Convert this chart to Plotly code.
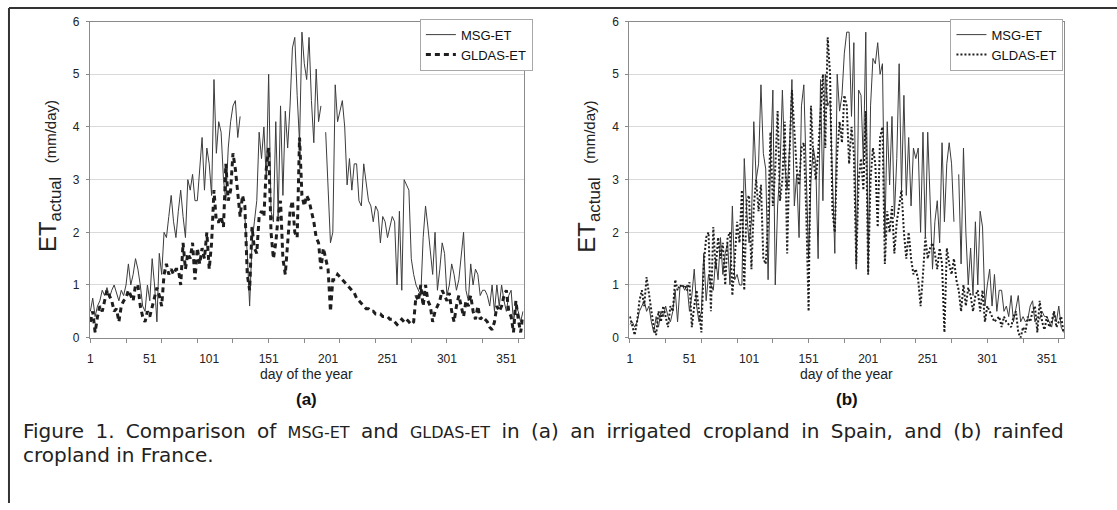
import plotly.graph_objects as go

# ---------------- data (every 2nd day) ----------------
days = list(range(1, 366, 2))

msg_a = [
    0.5, 0.75, 0.4, 0.6, 0.7, 0.9, 0.8, 0.95, 0.75, 0.9,
    1.0, 0.85, 0.7, 0.9, 0.8, 1.0, 1.4, 1.0, 1.2, 1.5,
    1.3, 1.0, 0.6, 0.5, 1.0, 0.7, 1.5, 1.0, 0.3, 1.6,
    1.2, 2.0, 1.9, 2.3, 2.7, 2.2, 1.9, 2.4, 2.8, 2.3,
    1.9, 3.0, 2.8, 3.1, 2.6, 2.6, 3.3, 3.8, 2.8, 3.6,
    3.3, 2.7, 4.9, 3.5, 4.1, 3.9, 3.0, 2.6, 3.6, 4.1,
    4.4, 4.5, 3.8, 4.2, None, 2.3, 1.6, 0.6, 1.8, 2.2,
    2.6, 3.9, 3.4, 4.0, 3.0, 5.0, 2.4, 2.2, 4.1, 2.3,
    4.4, 2.7, 4.3, 3.6, 4.4, 5.5, 5.7, 4.6, 3.7, 5.8,
    5.2, 4.9, 5.7, 4.5, 3.7, 5.1, 4.1, 4.4, None, 3.9,
    2.8, 1.8, 2.0, 4.8, 4.1, 4.3, 4.5, 4.0, 2.9, 3.4,
    2.8, 3.3, 3.3, 2.6, 2.5, 3.3, 2.9, 2.6, 2.5, 2.2,
    2.5, 2.4, 1.8, 2.3, 2.2, 1.9, 2.1, 2.3, 2.2, 1.0,
    2.4, 0.9, 3.0, 2.9, 2.8, 1.5, 1.2, 1.0, 0.9, 0.8,
    1.9, 2.5, 2.1, 1.6, 1.2, 2.0, 0.9, 1.3, 1.8, 1.6,
    0.8, 1.0, 1.4, 1.2, 0.9, 1.1, 1.6, 2.0, 0.9, 0.7,
    1.4, 1.0, 1.3, 1.2, 0.8, 0.9, 0.9, 0.8, 0.6, 1.0,
    0.5, 1.0, 0.6, 1.0, 0.7, 0.5, 0.8, 0.9, 0.3, 0.6,
    0.5, 0.3, 0.5,
]

gldas_a = [
    0.3, 0.5, 0.1, 0.4, 0.6, 0.5, 0.7, 0.9, 0.8, 0.7,
    0.5, 0.55, 0.3, 0.6, 0.7, 0.75, 0.9, 0.8, 0.7, 1.0,
    1.0, 0.6, 0.4, 0.3, 0.5, 0.4, 0.6, 0.8, 0.95, 0.8,
    0.6, 1.2, 1.4, 1.2, 1.3, 1.2, 1.3, 1.3, 1.0, 1.8,
    1.3, 1.6, 1.5, 1.8, 1.1, 1.7, 1.4, 1.7, 1.5, 2.0,
    1.3, 1.8, 2.8, 2.2, 2.2, 2.3, 2.1, 3.3, 2.6, 2.8,
    3.5, 3.2, 2.8, 2.3, 2.7, 2.5, 1.2, 0.9, 2.1, 1.7,
    1.6, 2.3, 2.4, 2.3, 3.2, 3.6, 2.0, 1.5, 1.8, 2.3,
    2.6, 1.5, 1.2, 1.8, 2.4, 2.6, 2.0, 1.9, 3.8, 2.7,
    2.5, 2.7, 2.6, 2.4, 2.2, 1.9, 1.8, 1.3, 1.7, 1.5,
    1.3, 0.5, 1.1, 1.1, 1.2, 1.15, 1.1, 1.05, 1.0, 0.95,
    0.9, 0.85, 0.75, 0.7, 0.65, 0.6, 0.55, 0.55, 0.5, 0.5,
    0.45, 0.45, 0.45, 0.4, 0.4, 0.4, 0.35, 0.35, 0.3, 0.25,
    0.3, 0.35, 0.3, 0.35, 0.3, 0.25, 0.3, 0.8, 0.7, 1.0,
    0.6, 1.0, 0.7, 0.6, 0.3, 0.5, 0.6, 0.7, 0.9, 0.8,
    0.7, 0.85, 0.5, 0.3, 0.6, 0.8, 0.6, 0.4, 0.7, 0.6,
    0.8, 0.5, 0.35, 0.6, 0.35, 0.4, 0.35, 0.3, 0.2, 0.15,
    0.3, 0.6, 0.5, 0.6, 0.8, 0.9, 0.5, 0.4, 0.1, 0.7,
    0.35, 0.1, 0.4,
]

msg_b = [
    0.25, 0.3, 0.2, 0.3, 0.5, 0.6, 0.7, 0.5, 0.6, 0.3,
    0.1, 0.4, 0.2, 0.5, 0.4, 0.6, 0.4, 0.3, 0.5, 0.9,
    0.3, 0.95, 1.0, 0.9, 1.0, 0.5, 0.8, 1.3, 0.6, 0.3,
    0.5, 1.6, 0.7, 1.2, 1.0, 0.9, 1.5, 1.1, 1.9, 1.2,
    1.6, 1.8, 1.0, 2.5, 1.1, 1.2, 1.0, 1.0, 3.4, 2.4,
    1.8, 2.2, 4.1, 3.0, 3.3, 4.8, 3.5, 3.2, 1.1, 3.3,
    4.7, 1.0, 2.5, 3.2, 4.7, 3.3, 2.8, 3.6, 4.9, 2.5,
    3.1, 1.9, 4.4, 4.8, 3.2, 1.5, 3.0, 3.6, 3.3, 1.5,
    4.9, 2.6, 5.0, 4.4, 4.5, 3.1, 1.6, 5.0, 4.3, 4.6,
    5.4, 5.8, 5.8, 4.2, 5.6, 1.3, 4.7, 4.6, 3.3, 5.8,
    1.2, 4.4, 5.3, 5.2, 5.6, 5.0, 5.2, 1.9, 4.1, 2.9,
    4.2, 2.3, 3.4, 5.2, 2.8, 4.6, 2.7, 3.8, 2.5, 3.6,
    3.4, 3.6, 2.0, 3.9, 1.9, 3.9, 2.7, 1.3, 2.2, 2.6,
    1.8, 3.7, 2.2, 3.3, 3.7, 3.3, 2.2, None, 3.1, 1.4,
    3.6, 2.0, 1.0, 1.7, 0.8, 2.2, 1.0, 2.4, 2.1, 0.6,
    1.0, 1.3, 0.6, 1.2, 0.5, 0.9, 0.9, 0.5, 0.6, 0.4,
    0.8, 0.3, 0.55, 0.8, 0.3, 0.4, 0.3, 0.35, 0.6, 0.7,
    0.3, 0.4, 0.35, 0.5, 0.4, 0.4, 0.3, 0.2, 0.5, 0.3,
    0.6, 0.2, 0.1,
]

gldas_b = [
    0.4, 0.2, 0.05, 0.3, 0.7, 0.9, 0.6, 1.15, 0.8, 0.5,
    0.2, 0.05, 0.5, 0.3, 0.6, 0.4, 0.2, 0.6, 0.5, 1.1,
    0.9, 1.0, 0.95, 1.0, 0.9, 1.05, 0.2, 0.6, 0.9, 0.5,
    0.1, 1.4, 1.9, 2.0, 0.5, 2.1, 1.3, 1.9, 1.5, 1.8,
    1.0, 1.9, 2.0, 0.8, 1.6, 2.2, 1.8, 2.8, 0.9, 2.6,
    2.7, 1.3, 2.5, 3.0, 2.4, 2.9, 1.5, 1.4, 2.2, 3.9,
    2.5, 3.2, 4.3, 2.6, 3.0, 4.1, 1.6, 3.5, 4.7, 3.9,
    3.2, 2.9, 3.6, 3.7, 2.4, 0.5, 4.4, 3.4, 3.0, 3.5,
    4.2, 5.0, 3.6, 5.7, 5.0, 2.4, 2.0, 3.5, 4.1, 3.7,
    4.6, 4.4, 3.3, 4.0, 3.5, 1.4, 3.0, 3.4, 2.8, 4.3,
    1.2, 3.0, 3.6, 3.3, 2.1, 3.8, 4.0, 1.4, 2.4, 2.0,
    2.5, 1.6, 2.2, 2.5, 2.8, 2.0, 1.5, 2.0, 1.5, 1.2,
    1.3, 1.1, 0.6, 1.2, 1.9, 1.5, 1.7, 1.8, 1.6, 1.3,
    1.7, 1.4, 0.1, 1.7, 1.4, 1.2, 1.5, 1.1, 0.9, 0.5,
    1.0, 0.6, 0.95, 0.8, 0.5, 0.8, 0.9, 0.5, 0.9, 0.3,
    0.6, 0.5, 0.4, 0.3, 0.35, 0.4, 0.2, 0.4, 0.3, 0.25,
    0.2, 0.4, 0.5, 0.1, 0.0, 0.2, 0.1, 0.4, 0.3, 0.5,
    0.6, 0.1, 0.7, 0.3, 0.15, 0.4, 0.2, 0.3, 0.5, 0.2,
    0.3, 0.4, 0.1,
]

x_label_days = [1, 51, 101, 151, 201, 251, 301, 351]
x_tick_days = [1, 31, 61, 91, 121, 151, 181, 211, 241, 271, 301, 331, 361]
y_ticks = [0, 1, 2, 3, 4, 5, 6]

# ---------------- layout helpers ----------------
W, H = 1117, 510
def px(x):
    return x / W
def py(y):
    return 1 - y / H

FONT = "Liberation Sans"
CAP_FONT = "DejaVu Sans"
AXC = "#8a8a8a"
A_L, A_R = 87, 522
B_L, B_R = 628, 1064
Y_T, Y_B = 15, 340

fig = go.Figure()
fig.add_trace(go.Scatter(x=days, y=msg_a, mode="lines", name="MSG-ET",
                         line=dict(color="#3c3c3c", width=1),
                         xaxis="x", yaxis="y", legend="legend"))
fig.add_trace(go.Scatter(x=days, y=gldas_a, mode="lines", name="GLDAS-ET",
                         line=dict(color="#1e1e1e", width=3, dash="5px,4px"),
                         xaxis="x", yaxis="y", legend="legend"))
fig.add_trace(go.Scatter(x=days, y=msg_b, mode="lines", name="MSG-ET",
                         line=dict(color="#3c3c3c", width=1),
                         xaxis="x2", yaxis="y2", legend="legend2"))
fig.add_trace(go.Scatter(x=days, y=gldas_b, mode="lines", name="GLDAS-ET",
                         line=dict(color="#1e1e1e", width=2, dash="2px,2px"),
                         xaxis="x2", yaxis="y2", legend="legend2"))

def xaxis_cfg(l, r, anchor):
    return dict(domain=[px(l), px(r)], range=[0.5, 365.5], anchor=anchor,
                tickmode="array", tickvals=x_label_days,
                ticktext=[str(d) for d in x_label_days], ticks="",
                ticklabelstandoff=10,
                minor=dict(tickvals=x_tick_days, ticks="outside", ticklen=4,
                           tickcolor=AXC, showgrid=False),
                showgrid=False, zeroline=False, showline=True, linecolor=AXC,
                linewidth=1, mirror=True,
                tickfont=dict(family=FONT, size=12, color="#222"))

def yaxis_cfg(anchor):
    return dict(domain=[py(Y_B), py(Y_T)], range=[0, 6], anchor=anchor,
                tickmode="array", tickvals=y_ticks, ticks="outside", ticklen=3,
                tickcolor=AXC, showgrid=True, gridcolor="#d9d9d9", gridwidth=1,
                zeroline=False, showline=True, linecolor=AXC, linewidth=1,
                mirror=True, ticklabelstandoff=4,
                tickfont=dict(family=FONT, size=12, color="#222"))

leg_common = dict(xanchor="left", yanchor="top", bgcolor="white",
                  bordercolor="#a8a8a8", borderwidth=1,
                  font=dict(family=FONT, size=13, color="#111"),
                  tracegroupgap=0, itemwidth=30)

annotations = []
for (l, r, lab) in [(A_L, A_R, "(a)"), (B_L, B_R, "(b)")]:
    cx = (l + r) / 2
    annotations.append(dict(x=px(cx), y=py(377), xref="paper", yref="paper",
                            text="day of the year", showarrow=False,
                            font=dict(family=FONT, size=14, color="#222"),
                            xanchor="center", yanchor="middle"))
    annotations.append(dict(x=px(cx), y=py(404), xref="paper", yref="paper",
                            text="<b>" + lab + "</b>", showarrow=False,
                            font=dict(family=FONT, size=17, color="#111"),
                            xanchor="center", yanchor="middle"))
    annotations.append(dict(x=px(l - 41), y=py(174), xref="paper",
                            yref="paper", textangle=-90, showarrow=False,
                            text="ET<sub>actual</sub>  <span style='font-size:15px'>(mm/day)</span>",
                            font=dict(family=FONT, size=24, color="#222"),
                            xanchor="center", yanchor="middle"))

# justified first caption line: slightly widened word gaps
GAP = " \u2005"
sc = "<span style='font-size:16px'>"
cap1_words = ["Figure", "1.", "Comparison", "of", sc + "MSG-ET</span>", "and",
              sc + "GLDAS-ET</span>", "in", "(a)", "an", "irrigated", "cropland",
              "in", "Spain,", "and", "(b)", "rainfed"]
annotations.append(dict(x=px(18), y=py(436), xref="paper", yref="paper",
                        xanchor="left", yanchor="middle", showarrow=False,
                        text=GAP.join(cap1_words),
                        font=dict(family=CAP_FONT, size=20, color="#222")))
annotations.append(dict(x=px(18), y=py(461), xref="paper", yref="paper",
                        xanchor="left", yanchor="middle", showarrow=False,
                        text="cropland in France.",
                        font=dict(family=CAP_FONT, size=20, color="#222")))

shapes = [
    dict(type="line", xref="paper", yref="paper", x0=px(6), x1=1, y0=py(1), y1=py(1),
         line=dict(color="#333", width=2)),
    dict(type="line", xref="paper", yref="paper", x0=px(6), x1=px(6), y0=py(1), y1=0,
         line=dict(color="#333", width=2)),
]

fig.update_layout(
    width=W, height=H, margin=dict(l=0, r=0, t=0, b=0),
    paper_bgcolor="white", plot_bgcolor="white",
    xaxis=xaxis_cfg(A_L, A_R, "y"), yaxis=yaxis_cfg("x"),
    xaxis2=xaxis_cfg(B_L, B_R, "y2"), yaxis2=yaxis_cfg("x2"),
    legend=dict(x=px(418), y=py(12), **leg_common),
    legend2=dict(x=px(950), y=py(12), **leg_common),
    annotations=annotations, shapes=shapes, showlegend=True,
)

fig.write_html("out.html")
